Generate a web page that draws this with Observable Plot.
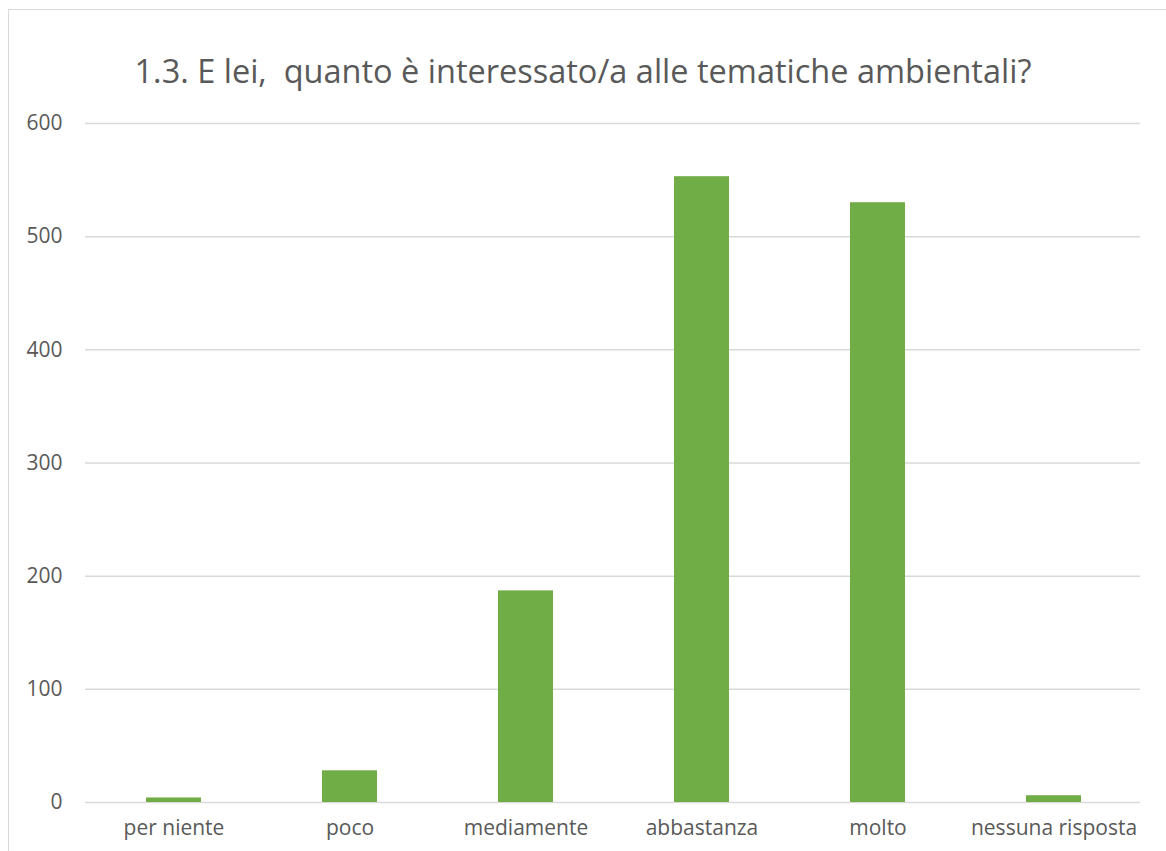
<!DOCTYPE html>
<html>
<head>
<meta charset="utf-8">
<script src="https://cdn.jsdelivr.net/npm/d3@7"></script>
<script src="https://cdn.jsdelivr.net/npm/@observablehq/plot@0.6"></script>
<style>
  html, body { margin: 0; padding: 0; background: #fff; overflow: hidden; }
  #wrap { position: relative; width: 1166px; height: 851px; font-family: "Open Sans", sans-serif; }
  #border { position: absolute; left: 8px; top: 9px; width: 1200px; height: 900px; border: 1.5px solid #d9d9d9; box-sizing: border-box; }
  #title { position: absolute; left: 0; width: 1166px; top: 48px; text-align: center; font-size: 32.5px; color: #595959; white-space: pre; }
  svg { position: absolute; left: 0; top: 0; }
</style>
</head>
<body>
<div id="wrap">
  <div id="border"></div>
  <div id="title">1.3. E lei,  quanto è interessato/a alle tematiche ambientali?</div>
</div>
<script>
const categories = ["per niente", "poco", "mediamente", "abbastanza", "molto", "nessuna risposta"];
const values = [4, 28, 187, 553, 530, 6];
const yTicks = [0, 100, 200, 300, 400, 500, 600];

const data = categories.map((c, i) => ({category: c, value: values[i]}));

const chart = Plot.plot({
  width: 1166,
  height: 851,
  marginLeft: 85,
  marginRight: 26,
  marginTop: 123,
  marginBottom: 49,
  style: {fontFamily: "'Open Sans', sans-serif", fontSize: "21px", color: "#595959", background: "transparent"},
  x: {domain: categories, paddingInner: 0.685, paddingOuter: 0.333, align: 0.51, label: null},
  y: {domain: [0, 600], label: null},
  marks: [
    Plot.ruleY(yTicks, {stroke: "#d9d9d9", strokeWidth: 1.5}),
    Plot.barY(data, {x: "category", y: "value", fill: "#70ad47"}),
    Plot.axisY(yTicks, {tickSize: 0, tickPadding: 23, fill: "#595959", fontSize: 21}),
    Plot.axisX({tickSize: 0, tickPadding: 18, fill: "#595959", fontSize: 21})
  ]
});
document.getElementById("wrap").appendChild(chart);
</script>
</body>
</html>
